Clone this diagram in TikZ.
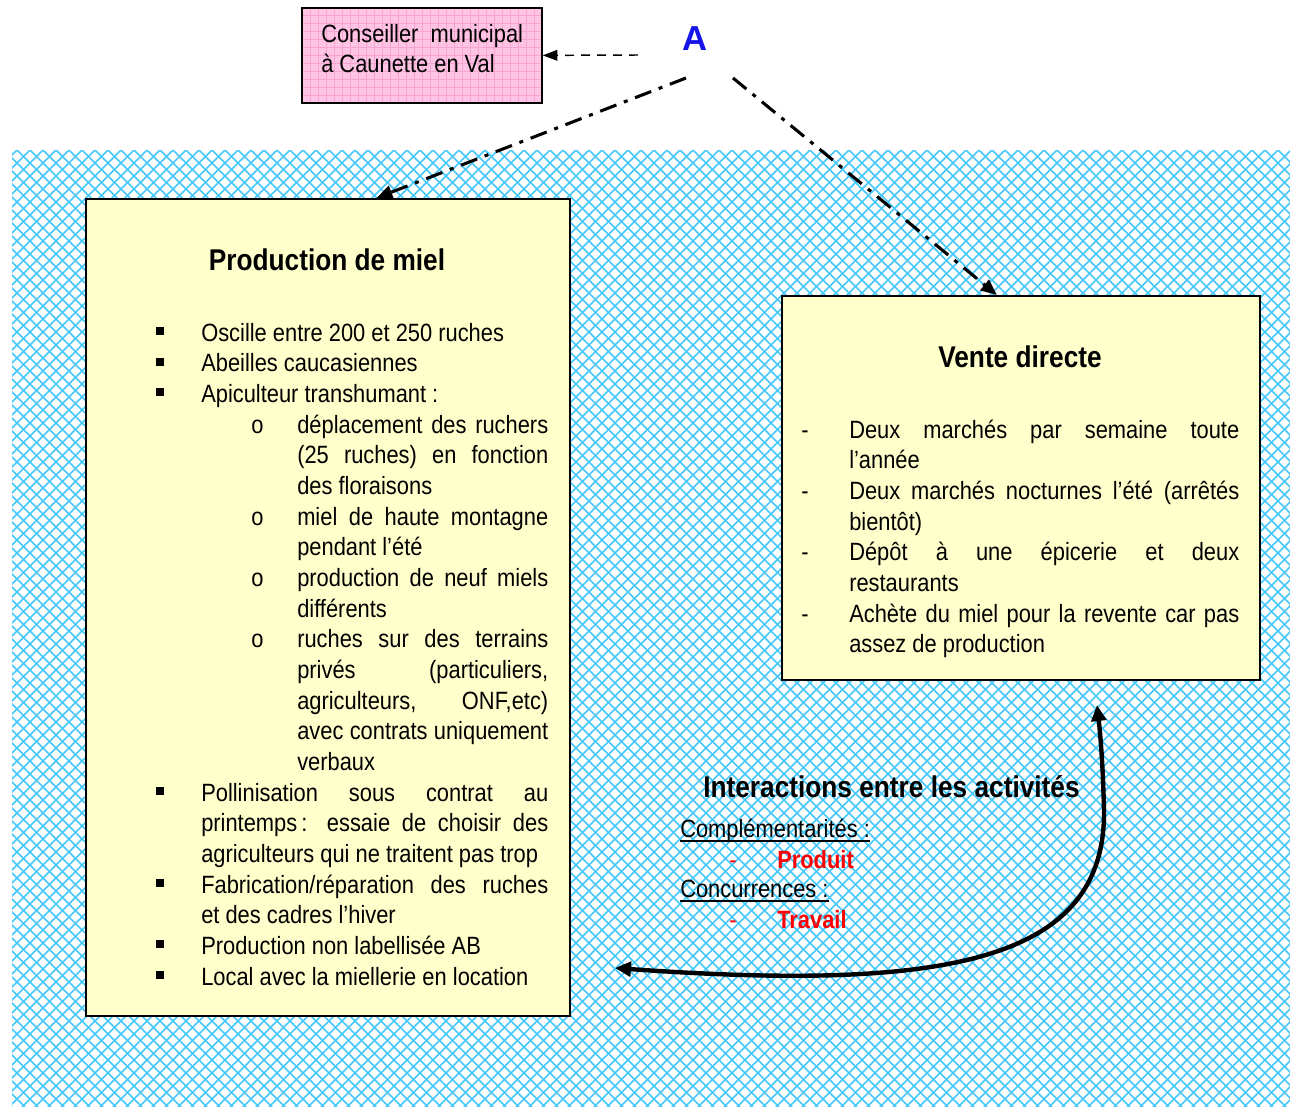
\documentclass[tikz,border=0pt]{standalone}
\usepackage{fontspec}
\setmainfont{Liberation Sans}[FakeStretch=0.875]
\newfontfamily\widesans{Liberation Sans}
\usetikzlibrary{arrows.meta,calc}

\definecolor{hatch}{RGB}{70,200,250}
\definecolor{boxyellow}{RGB}{255,255,204}
\definecolor{pinkfill}{RGB}{255,196,228}
\definecolor{pinkgrid}{RGB}{245,165,208}
\definecolor{letterblue}{RGB}{20,20,235}
\definecolor{alertred}{RGB}{255,0,0}

% justified line of fixed width
\newcommand\jl[2]{\makebox[#1][s]{#2}}
\newlength\mainw \setlength\mainw{260.25pt}
\newlength\subw  \setlength\subw{188.25pt}
\newlength\venw  \setlength\venw{292.5pt}

\begin{document}
\begin{tikzpicture}[x=0.75pt,y=-0.75pt,
  body/.style={anchor=base west,inner sep=0pt,font=\fontsize{18.75}{23}\selectfont},
  headline/.style={anchor=base,inner sep=0pt,font=\fontsize{22.5}{27}\selectfont\bfseries},
  ybox/.style={draw=black,line width=1.3pt,fill=boxyellow,anchor=north west,inner sep=0pt},
  pbox/.style={draw=black,line width=1.3pt,fill=pinkfill,anchor=north west,inner sep=0pt,
    path picture={\draw[pinkgrid,line width=0.3pt]
      (path picture bounding box.south west) grid[step=6pt] (path picture bounding box.north east);}},
  dashlink/.style={draw=black,line width=1.1pt,dash pattern=on 6.75pt off 5.25pt,
    -{Triangle[length=11pt,width=8pt]}},
  dotlink/.style={draw=black,line width=2.3pt,dash pattern=on 13pt off 6pt on 3pt off 6pt,
    -{Triangle[length=12pt,width=10pt]}},
  bothlink/.style={draw=black,line width=3.3pt,{Triangle[length=12pt,width=11pt]}-{Triangle[length=12pt,width=11pt]}},
]
\useasboundingbox (0,0) rectangle (1290,1107);
\fill[white] (0,0) rectangle (1290,1107);

% cross-hatched backdrop
\begin{scope}
  \clip (12,150) rectangle (1290,1107);
  \foreach \c in {-958,-945,...,2260} {
    \draw[hatch,line width=1.15pt] (\c,150) -- ++(957,957);
    \draw[hatch,line width=1.15pt] (\c,150) -- ++(-957,957);
  }
\end{scope}

% boxes
\node[pbox,minimum width=180pt,minimum height=71.25pt] (cons) at (301,7) {};
\node[ybox,minimum width=363pt,minimum height=612.75pt] (prod) at (85,198) {};
\node[ybox,minimum width=358.5pt,minimum height=288pt] (vente) at (781,295) {};

% councillor label
\node[body] (cons1) at (321,42) {Conseiller\ \ municipal};
\node[body] (cons2) at (321,72) {à Caunette en Val};

% origin letter
\node[anchor=base,inner sep=0pt,font=\widesans\fontsize{26}{30}\selectfont\bfseries,text=letterblue] (A) at (695,50) {A};

% links from A
\coordinate (a0) at (638,55);
\coordinate (a1) at (686,78);
\coordinate (a2) at (733,78);
\draw[dashlink] (a0) -- (cons.east);
\draw[dotlink] (a1) -- ($(prod.north west)!0.6!(prod.north east)$);
\draw[dotlink] (a2) -- ($(vente.north west)!0.45!(vente.north east)$);

% honey production
\node[headline] (prodt) at (327,270) {Production de miel};
\newcommand\bul[1]{\fill (156,#1-14) rectangle ++(8,8);}
\bul{341}\bul{371.7}\bul{402.3}\bul{801}\bul{893}\bul{954.3}\bul{985}
\node[body] (p0) at (201,341) {Oscille entre 200 et 250 ruches};
\node[body] (p1) at (201,371.7) {Abeilles caucasiennes};
\node[body] (p2) at (201,402.3) {Apiculteur transhumant :};
\node[body] (o1) at (251,433) {o};
\node[body] (p3) at (297,433) {\jl{\subw}{déplacement des ruchers}};
\node[body] (p4) at (297,463.7) {\jl{\subw}{(25 ruches) en fonction}};
\node[body] (p5) at (297,494.3) {des floraisons};
\node[body] (o2) at (251,525) {o};
\node[body] (p6) at (297,525) {\jl{\subw}{miel de haute montagne}};
\node[body] (p7) at (297,555.7) {pendant l’été};
\node[body] (o3) at (251,586.3) {o};
\node[body] (p8) at (297,586.3) {\jl{\subw}{production de neuf miels}};
\node[body] (p9) at (297,617) {différents};
\node[body] (o4) at (251,647.7) {o};
\node[body] (p10) at (297,647.7) {\jl{\subw}{ruches sur des terrains}};
\node[body] (p11) at (297,678.3) {\jl{\subw}{privés (particuliers,}};
\node[body] (p12) at (297,709) {\jl{\subw}{agriculteurs, ONF,etc)}};
\node[body] (p13) at (297,739.7) {\jl{\subw}{avec contrats uniquement}};
\node[body] (p14) at (297,770.3) {verbaux};
\node[body] (p15) at (201,801) {\jl{\mainw}{Pollinisation sous contrat au}};
\node[body] (p16) at (201,831.7) {\jl{\mainw}{printemps\,: essaie de choisir des}};
\node[body] (p17) at (201,862.3) {agriculteurs qui ne traitent pas trop};
\node[body] (p18) at (201,893) {\jl{\mainw}{Fabrication/réparation des ruches}};
\node[body] (p19) at (201,923.7) {et des cadres l’hiver};
\node[body] (p20) at (201,954.3) {Production non labellisée AB};
\node[body] (p21) at (201,985) {Local avec la miellerie en location};

% direct sales
\node[headline] (ventet) at (1020,367) {Vente directe};
\node[body] (d1) at (801,438) {-};
\node[body] (v0) at (849,438) {\jl{\venw}{Deux marchés par semaine toute}};
\node[body] (v1) at (849,468.7) {l’année};
\node[body] (d2) at (801,499.3) {-};
\node[body] (v2) at (849,499.3) {\jl{\venw}{Deux marchés nocturnes l’été (arrêtés}};
\node[body] (v3) at (849,530) {bientôt)};
\node[body] (d3) at (801,560.7) {-};
\node[body] (v4) at (849,560.7) {\jl{\venw}{Dépôt à une épicerie et deux}};
\node[body] (v5) at (849,591.3) {restaurants};
\node[body] (d4) at (801,622) {-};
\node[body] (v6) at (849,622) {\jl{\venw}{Achète du miel pour la revente car pas}};
\node[body] (v7) at (849,652.7) {assez de production};

% interactions
\node[headline,anchor=base west] (inter) at (703,797) {Interactions entre les activités};
\node[body] (comp) at (680,837) {Complémentarités :};
\draw[line width=1.1pt] ([yshift=-3pt]comp.base west) -- ([yshift=-3pt]comp.base east);
\node[body,text=alertred] (d5) at (729,868) {-};
\node[body,text=alertred,font=\fontsize{18.75}{23}\selectfont\bfseries] (prodw) at (777,868) {Produit};
\node[body] (conc) at (680,897) {Concurrences :};
\draw[line width=1.1pt] ([yshift=-3pt]conc.base west) -- ([yshift=-3pt]conc.base east);
\node[body,text=alertred] (d6) at (729,928) {-};
\node[body,text=alertred,font=\fontsize{18.75}{23}\selectfont\bfseries] (trav) at (777,928) {Travail};

% two-way link between the activities
\coordinate (c1) at (615,968);
\coordinate (c2) at (1097,705);
\draw[bothlink] (c1) .. controls (950,992) and (1106,960) .. (1104,810)
  .. controls (1103,770) and (1101,740) .. (c2);
\end{tikzpicture}
\end{document}
